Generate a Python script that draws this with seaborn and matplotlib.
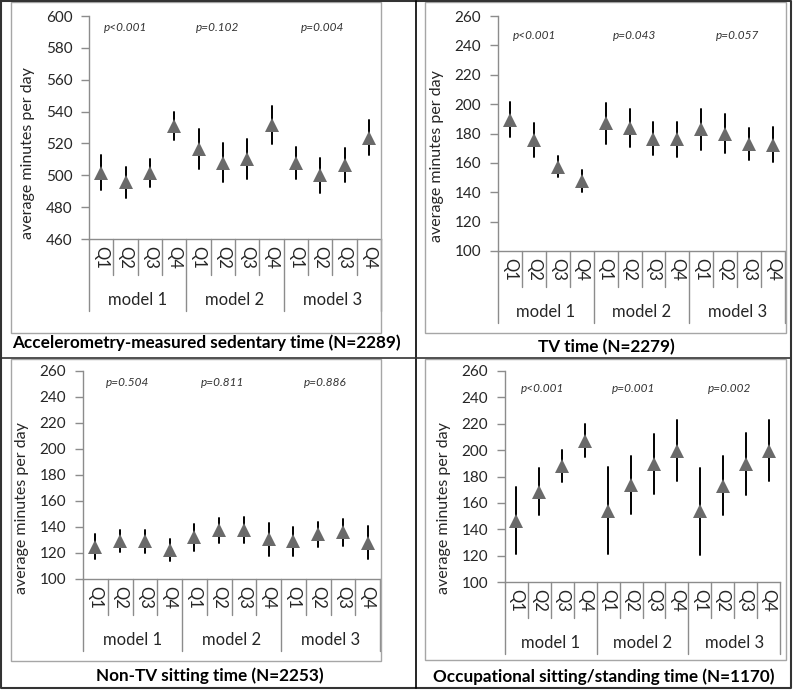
import numpy as np
import pandas as pd
import matplotlib
matplotlib.use('Agg')
import matplotlib.pyplot as plt
from matplotlib.transforms import blended_transform_factory
from matplotlib.patches import Rectangle
from matplotlib.lines import Line2D
import seaborn as sns

# Data (order: model 1 Q1..Q4, model 2 Q1..Q4, model 3 Q1..Q4)
quartiles = ['Q1', 'Q2', 'Q3', 'Q4']
models = ['model 1', 'model 2', 'model 3']

acc_mean = [501.5, 495.5, 501.5, 531.0, 516.5, 508.0, 510.0, 531.5, 507.5, 500.0, 506.5, 523.5]
acc_err = [11.0, 9.5, 9.0, 9.0, 12.5, 12.0, 12.5, 12.0, 10.0, 11.0, 10.5, 11.0]
acc_p = ['p<0.001', 'p=0.102', 'p=0.004']

tv_mean = [189.5, 175.5, 157.5, 147.5, 187.0, 183.5, 176.5, 176.0, 183.0, 180.0, 173.0, 172.5]
tv_err = [12.0, 11.5, 7.0, 7.5, 14.0, 13.0, 11.0, 12.0, 14.0, 13.0, 11.0, 12.0]
tv_p = ['p<0.001', 'p=0.043', 'p=0.057']

ntv_mean = [125.0, 129.0, 129.0, 122.0, 132.0, 137.5, 138.0, 130.5, 129.0, 134.5, 136.0, 128.0]
ntv_err = [9.5, 8.5, 9.0, 8.5, 10.5, 9.5, 10.0, 12.5, 11.0, 9.5, 10.5, 12.5]
ntv_p = ['p=0.504', 'p=0.811', 'p=0.886']

occ_mean = [146.5, 168.5, 188.0, 207.0, 154.0, 173.5, 189.5, 199.5, 153.5, 173.0, 189.5, 199.5]
occ_err = [25.5, 18.0, 12.0, 12.5, 33.0, 22.0, 22.5, 23.0, 33.0, 22.5, 23.5, 23.0]
occ_p = ['p<0.001', 'p=0.001', 'p=0.002']

titles = ['Accelerometry-measured sedentary time (N=2289)', 'TV time (N=2279)',
          'Non-TV sitting time (N=2253)', 'Occupational sitting/standing time (N=1170)']

sns.set_style('white')
plt.rcParams['font.family'] = ['Lato', 'DejaVu Sans']

W, H = 800, 690
fig = plt.figure(figsize=(W / 100, H / 100), dpi=100)

axis_gray = '#8c8c8c'
marker_gray = '#6a6a6a'
text_col = '#262626'


def px_rect(x0, y0, x1, y1, **kw):
    fig.add_artist(Rectangle((x0 / W, 1 - y1 / H), (x1 - x0) / W, (y1 - y0) / H,
                             transform=fig.transFigure, fill=False, **kw))


def px_line(xs, ys, **kw):
    fig.add_artist(Line2D([x / W for x in xs], [1 - y / H for y in ys],
                          transform=fig.transFigure, **kw))


def draw_panel(rect, mean, err, ylim, pvals, p_x, p_y, label_y):
    L, T, R, B = rect
    ax = fig.add_axes([L / W, 1 - B / H, (R - L) / W, (B - T) / H])
    cats = [f'{m} {q}' for m in models for q in quartiles]
    rows = []
    for c, m, e in zip(cats, mean, err):
        rows += [(c, m - e), (c, m), (c, m + e)]
    df = pd.DataFrame(rows, columns=['cat', 'val'])
    sns.pointplot(data=df, x='cat', y='val', order=cats, estimator='median',
                  errorbar=('pi', 100), color=marker_gray, markers='^',
                  linestyles='none', markersize=10.5, markeredgewidth=0, zorder=4,
                  err_kws={'color': 'black', 'linewidth': 1.4, 'zorder': 2}, ax=ax)
    ax.set_xlim(-0.5, 11.5)
    ax.set_ylim(*ylim)
    ax.set_yticks(np.arange(ylim[0], ylim[1] + 1, 20))
    ax.set_xticks([])
    ax.set_xlabel('')
    ax.set_ylabel('average minutes per day', fontsize=11.5, color=text_col)
    ax.yaxis.set_label_coords(-54 / (R - L), label_y)
    for s in ['top', 'right']:
        ax.spines[s].set_visible(False)
    for s in ['left', 'bottom']:
        ax.spines[s].set_color(axis_gray)
        ax.spines[s].set_linewidth(1)
    ax.tick_params(axis='y', left=True, length=6, width=1, color=axis_gray,
                   pad=6, labelsize=11, labelcolor=text_col)

    # two-level category axis
    h = B - T
    trans = blended_transform_factory(ax.transData, ax.transAxes)
    for k in range(13):
        depth = 72 if k % 4 == 0 else 36
        ax.plot([k - 0.5, k - 0.5], [0, -depth / h], transform=trans,
                color=axis_gray, lw=1, clip_on=False)
    for i, q in enumerate(quartiles * 3):
        ax.text(i, -18 / h, q, transform=trans, rotation=270, ha='center',
                va='center', fontsize=12, color=text_col)
    for j, m in enumerate(models):
        ax.text(4 * j + 1.5, -61 / h, m, transform=trans, ha='center',
                va='center', fontsize=12, color=text_col)

    for t, x in zip(pvals, p_x):
        ax.text(x, p_y, t, ha='center', va='center', fontsize=8.5,
                style='italic', color='#333333')
    return ax


draw_panel((89, 16, 381, 239), acc_mean, acc_err, (460, 600), acc_p,
           [1.0, 4.8, 9.1], 592.5, 0.386)
draw_panel((498, 16, 785, 251), tv_mean, tv_err, (100, 260), tv_p,
           [1.05, 5.2, 9.5], 247, 0.404)
draw_panel((83, 371, 380, 579), ntv_mean, ntv_err, (100, 260), ntv_p,
           [1.3, 5.15, 9.3], 251, 0.341)
draw_panel((505, 371, 780, 582), occ_mean, occ_err, (100, 260), occ_p,
           [1.15, 5.1, 9.3], 247, 0.35)

# chart boxes
box_col = '#a6a6a6'
px_rect(11, 2, 381, 333, ec=box_col, lw=1)
px_rect(425, 2, 786, 333, ec=box_col, lw=1)
px_rect(11, 359, 381, 661, ec=box_col, lw=1)
px_rect(425, 359, 786, 660, ec=box_col, lw=1)

# table lines
px_line([1, 791, 791, 1, 1], [1, 1, 688, 688, 1], color='#333333', lw=1.5)
px_line([416, 416], [1, 688], color='black', lw=1.2)
px_line([1, 791], [358, 358], color='#333333', lw=1.2)

# cell titles
title_kw = dict(ha='center', va='center', fontsize=12.3, fontweight='bold', color='black')
fig.text(206 / W, 1 - 343 / H, titles[0], **title_kw)
fig.text(606 / W, 1 - 347 / H, titles[1], **title_kw)
fig.text(210 / W, 1 - 676 / H, titles[2], **title_kw)
fig.text(604 / W, 1 - 677 / H, titles[3], **title_kw)

fig.savefig('out.png', dpi=100)
